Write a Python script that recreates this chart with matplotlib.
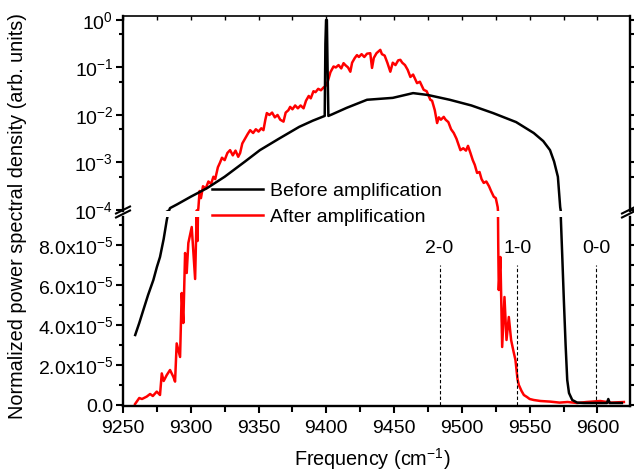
import numpy as np
import matplotlib
matplotlib.use("Agg")
from matplotlib import pyplot as plt
from matplotlib.ticker import MultipleLocator, FixedLocator, FuncFormatter, NullFormatter
from matplotlib.lines import Line2D

plt.rcParams['font.family'] = ['Liberation Sans', 'DejaVu Sans']
plt.rcParams['mathtext.fontset'] = 'custom'
plt.rcParams['mathtext.rm'] = 'Liberation Sans'
plt.rcParams['mathtext.it'] = 'Liberation Sans'
plt.rcParams['mathtext.default'] = 'regular'

# ---- data ----
# black = before amplification
blk_lo_x = [9259, 9262, 9265, 9268.5, 9272.4, 9275, 9277.3, 9280, 9282.3, 9284]
blk_lo_y = [3.5e-5, 4.1e-5, 4.75e-5, 5.5e-5, 6.25e-5, 6.9e-5, 7.4e-5, 8.3e-5, 9.25e-5, 9.8e-5]
blk_hi_x = [9284.7, 9290, 9300, 9312, 9325, 9340, 9351, 9365, 9380, 9390, 9398.8,
            9399.3, 9399.8, 9400.4, 9400.9, 9401.5, 9404, 9415, 9430, 9449, 9464,
            9475, 9491, 9507, 9523, 9540, 9553, 9560, 9565, 9568, 9570.8, 9572.5]
blk_hi_log = [-3.96, -3.88, -3.72, -3.54, -3.3, -2.98, -2.74, -2.5, -2.25, -2.12, -2.02,
              -0.5, 0.0, 0.0, -1.0, -2.02, -1.99, -1.85, -1.68, -1.64, -1.54,
              -1.58, -1.68, -1.8, -1.96, -2.15, -2.38, -2.55, -2.74, -2.98, -3.3, -3.94]
blk_end_x = [9573, 9574, 9575.2, 9576.5, 9577.7, 9579, 9581.4, 9585, 9590, 9600,
             9607, 9608, 9609, 9618]
blk_end_y = [9.3e-5, 7.5e-5, 5.25e-5, 3e-5, 1.25e-5, 0.6e-5, 0.25e-5, 0.12e-5, 0.1e-5,
             0.1e-5, 0.1e-5, 0.3e-5, 0.1e-5, 0.1e-5]

# red = after amplification
red_lo_x = [9258.9, 9262, 9264, 9267.5, 9270, 9272, 9274.9, 9277.3, 9278.6, 9280, 9282.3,
            9284.7, 9287.2, 9288.4, 9289.6, 9292.1, 9293.3, 9294.5, 9295.8, 9297,
            9298.2, 9300.7, 9303.2, 9304.4, 9305]
red_lo_y = [0.05e-5, 0.35e-5, 0.3e-5, 0.42e-5, 0.55e-5, 0.45e-5, 0.67e-5, 0.5e-5, 1.58e-5,
            1.2e-5, 1.5e-5, 1.75e-5, 1.4e-5, 1.17e-5, 3.08e-5, 2.4e-5, 5.6e-5, 4.1e-5,
            7.6e-5, 6.6e-5, 8.1e-5, 8.9e-5, 6.3e-5, 9.8e-5, 8.2e-5]
red_hi_x = [9305.6, 9306.5, 9307.5, 9309, 9311, 9313, 9315, 9316.7, 9318, 9320, 9321.6,
            9323, 9325, 9327, 9329, 9331, 9333, 9335, 9336.4, 9338, 9340, 9342, 9343.8,
            9346, 9348, 9350, 9352, 9353.6, 9355, 9356.1, 9358, 9360, 9362, 9364, 9366,
            9368.4, 9370, 9372, 9373.3, 9375, 9377, 9379, 9381, 9383.2, 9385, 9387,
            9388.5, 9390.5, 9392, 9394, 9396, 9398, 9399.2, 9401, 9403, 9405.3, 9407,
            9409, 9411, 9412.7, 9414, 9416, 9417.7, 9419, 9421, 9422.6, 9424, 9426,
            9428, 9430, 9432.4, 9433.7, 9435, 9437, 9439.8, 9441, 9443, 9445, 9447.2,
            9449, 9451, 9453, 9454.6, 9456, 9458, 9460, 9462, 9464, 9466.9, 9469,
            9471.8, 9474, 9476.7, 9478, 9480, 9481.7, 9483, 9484.5, 9486.6, 9488, 9490,
            9492, 9494, 9496, 9498.9, 9501, 9503, 9504.5, 9506.3, 9508, 9509.5, 9511.2,
            9513, 9514.5, 9516.1, 9518, 9520, 9521.5, 9523.5, 9525, 9526.4]
red_hi_log = [-3.96, -3.6, -3.75, -3.5, -3.55, -3.4, -3.45, -3.3, -3.35, -3.1, -3.0,
              -2.9, -2.95, -2.8, -2.74, -2.85, -2.75, -2.88, -2.8, -2.6, -2.5, -2.4, -2.32,
              -2.38, -2.3, -2.35, -2.28, -2.32, -2.1, -1.96, -2.0, -1.95, -2.05, -2.0, -2.1,
              -2.14, -1.95, -1.9, -1.83, -1.88, -1.8, -1.86, -1.8, -1.86, -1.7, -1.6,
              -1.65, -1.5, -1.52, -1.45, -1.48, -1.42, -1.4, -1.3, -1.1, -0.98, -1.0,
              -0.95, -1.02, -0.91, -0.95, -1.0, -1.09, -0.9, -0.8, -0.74, -0.78, -0.72,
              -0.78, -0.71, -0.70, -1.01, -0.8, -0.7, -0.63, -0.72, -0.75, -0.9, -1.09,
              -0.9, -0.95, -0.85, -0.84, -0.9, -0.95, -1.05, -1.2, -1.15, -1.33, -1.3,
              -1.47, -1.5, -1.68, -1.7, -1.9, -2.17, -2.05, -2.1, -2.04, -2.1, -2.15,
              -2.3, -2.38, -2.5, -2.74, -2.7, -2.75, -2.65, -2.8, -2.95, -3.05, -3.22,
              -3.2, -3.35, -3.43, -3.4, -3.5, -3.6, -3.72, -3.75, -3.94]
red_end_x = [9526.8, 9527.2, 9528.4, 9529.7, 9531.4, 9532.9, 9534.6, 9536.3, 9538, 9539.5,
             9541, 9542, 9544, 9545.7, 9548, 9550, 9553, 9558, 9565, 9572, 9578, 9585,
             9592, 9602, 9610, 9619.5]
red_end_y = [8e-5, 5.75e-5, 7.4e-5, 2.9e-5, 5.4e-5, 3.25e-5, 4.4e-5, 3.25e-5, 2.7e-5,
             2.25e-5, 1.3e-5, 1.0e-5, 0.7e-5, 0.5e-5, 0.4e-5, 0.3e-5, 0.25e-5, 0.2e-5,
             0.17e-5, 0.12e-5, 0.15e-5, 0.1e-5, 0.15e-5, 0.2e-5, 0.12e-5, 0.15e-5]

trans_x = [9483.5, 9541, 9599]
trans_lbl = ['2-0', '1-0', '0-0']

blk_x = np.array(blk_lo_x + blk_hi_x + blk_end_x)
blk_y = np.concatenate([blk_lo_y, 10.0 ** np.array(blk_hi_log), blk_end_y])
red_x = np.array(red_lo_x + red_hi_x + red_end_x)
red_y = np.concatenate([red_lo_y, 10.0 ** np.array(red_hi_log), red_end_y])

fig = plt.figure(figsize=(6.34, 4.75), dpi=100)
W, H = 634.0, 475.0
ax1 = fig.add_axes([123 / W, 1 - 211 / H, 507 / W, 195 / H])
ax2 = fig.add_axes([123 / W, 1 - 406 / H, 507 / W, 189 / H])
fs = 14
lw = 1.8

for ax in (ax1, ax2):
    ax.plot(red_x, red_y, color='#ff0000', lw=lw)
    ax.plot(blk_x, blk_y, color='black', lw=lw)
    ax.set_xlim(9250, 9624)
    for s in ax.spines.values():
        s.set_linewidth(1.7)

ax1.set_yscale('log')
ax1.set_ylim(9.53e-5, 1.21)
ax2.set_ylim(-0.05e-5, 9.4e-5)

ax1.spines['bottom'].set_visible(False)
ax2.spines['top'].set_visible(False)
ax1.spines['top'].set_linewidth(1.2)

# top panel ticks
ax1.yaxis.set_major_locator(FixedLocator([1e-4, 1e-3, 1e-2, 1e-1, 1e0]))
ax1.yaxis.set_minor_locator(FixedLocator([5e-4, 5e-3, 5e-2, 5e-1]))
ax1.yaxis.set_major_formatter(FuncFormatter(lambda v, p: r'10$^{%d}$' % round(np.log10(v))))
ax1.yaxis.set_minor_formatter(NullFormatter())
ax1.tick_params(axis='y', which='both', direction='out', left=True, right=True,
                labelsize=fs, width=1.5, pad=2)
ax1.tick_params(axis='y', which='major', length=5)
ax1.tick_params(axis='y', which='minor', length=3)
ax1.xaxis.set_major_locator(MultipleLocator(50))
ax1.xaxis.set_minor_locator(MultipleLocator(25))
ax1.tick_params(axis='x', which='both', direction='in', top=True, bottom=False,
                labelbottom=False, length=3, width=1.0)

# bottom panel ticks
ax2.yaxis.set_major_locator(MultipleLocator(2e-5))
ax2.yaxis.set_minor_locator(MultipleLocator(1e-5))
def lin_fmt(v, p):
    if abs(v) < 1e-12:
        return '0.0'
    return r'%.1fx10$^{-5}$' % (v / 1e-5)
ax2.yaxis.set_major_formatter(FuncFormatter(lin_fmt))
ax2.tick_params(axis='y', which='both', direction='out', left=True, right=True,
                labelsize=fs, width=1.5, pad=2)
ax2.tick_params(axis='y', which='major', length=5)
ax2.tick_params(axis='y', which='minor', length=3)
ax2.xaxis.set_major_locator(MultipleLocator(50))
ax2.xaxis.set_minor_locator(MultipleLocator(25))
ax2.tick_params(axis='x', which='both', direction='out', top=False, bottom=True,
                labelsize=fs, width=1.5, pad=5)
ax2.tick_params(axis='x', which='major', length=5)
ax2.tick_params(axis='x', which='minor', length=4)

# transition markers
ax2.vlines(trans_x, 0, 7e-5, colors='black', linestyles=(0, (3, 2)), lw=0.8)
for xv, t in zip(trans_x, trans_lbl):
    ax2.text(xv, 7.8e-5, t, ha='center', va='center', fontsize=fs)

# axis break marks
def brk(x0, y0):
    for dy in (0, 4):
        fig.add_artist(Line2D([(x0 - 7) / W, (x0 + 7) / W],
                              [1 - (y0 + 3.5 + dy) / H, 1 - (y0 - 3.5 + dy) / H],
                              color='black', lw=1.5))
brk(123, 210)
brk(629, 210)

fig.legend([Line2D([], [], color='black', lw=lw), Line2D([], [], color='#ff0000', lw=lw)],
           ['Before amplification', 'After amplification'],
           loc='upper left', bbox_to_anchor=(212 / W, 1 - 182 / H),
           bbox_transform=fig.transFigure, frameon=False, fontsize=fs,
           borderpad=0, borderaxespad=0, handlelength=2.6, handletextpad=0.4,
           labelspacing=0.45)

fig.text(372 / W, 1 - 459 / H, r'Frequency (cm$^{-1}$)', ha='center', va='center', fontsize=14.3)
fig.text(18 / W, 1 - 216 / H, 'Normalized power spectral density (arb. units)',
         ha='center', va='center', rotation=90, fontsize=14.3)

fig.savefig('out.png', dpi=100)
